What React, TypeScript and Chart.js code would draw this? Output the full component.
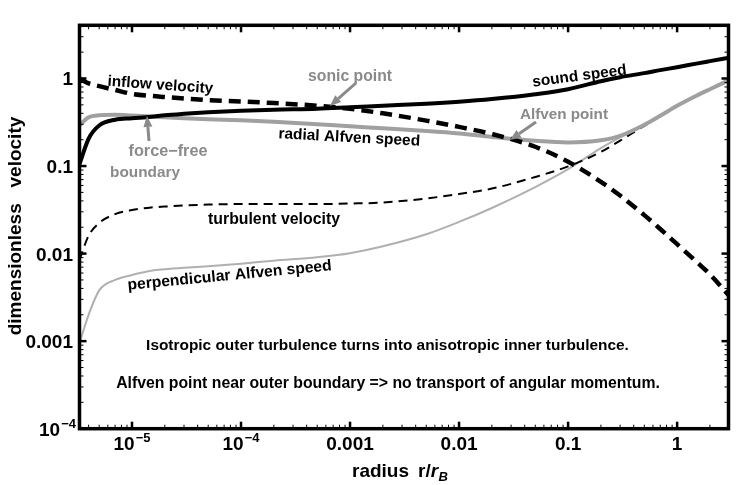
import React, { useEffect, useRef } from 'react';
import { Chart, registerables } from 'chart.js';

Chart.register(...registerables);

// ---- data ----
const radius = [3.3e-6, 4e-6, 5e-6, 7e-6, 1e-5, 1.5e-5, 2e-5, 3e-5, 5e-5, 1e-4, 2e-4, 5e-4, 1e-3, 2e-3, 5e-3, 0.01, 0.02, 0.05, 0.1, 0.2, 0.3, 0.5, 0.7, 1, 1.5, 2, 3];
const inflowVelocity = [1.0, 0.88, 0.817, 0.74, 0.667, 0.632, 0.615, 0.592, 0.567, 0.547, 0.524, 0.488, 0.45, 0.40, 0.33, 0.28, 0.232, 0.166, 0.112, 0.066, 0.046, 0.0275, 0.0191, 0.0128, 0.0081, 0.0058, 0.0033];
const soundSpeed = [0.105, 0.205, 0.29, 0.338, 0.351, 0.365, 0.38, 0.395, 0.411, 0.428, 0.44, 0.451, 0.469, 0.488, 0.514, 0.542, 0.582, 0.661, 0.754, 0.931, 1.035, 1.151, 1.245, 1.346, 1.478, 1.578, 1.73];
const radialAlfvenSpeed = [0.29, 0.36, 0.38, 0.385, 0.377, 0.367, 0.361, 0.351, 0.342, 0.333, 0.32, 0.30, 0.284, 0.27, 0.252, 0.236, 0.215, 0.194, 0.186, 0.197, 0.221, 0.296, 0.375, 0.488, 0.635, 0.754, 0.957];
const turbulentVelocity = [0.0085, 0.016, 0.0224, 0.0282, 0.0314, 0.0336, 0.0344, 0.0354, 0.0363, 0.0368, 0.0368, 0.0368, 0.0373, 0.0383, 0.0426, 0.0479, 0.0553, 0.075, 0.099, 0.145, 0.195, 0.288, 0.372, 0.485, 0.632, 0.752, 0.955];
const perpAlfvenSpeed = [0.00095, 0.002, 0.0038, 0.005, 0.0057, 0.00637, 0.00662, 0.00689, 0.00718, 0.00766, 0.0083, 0.0091, 0.0101, 0.0121, 0.0166, 0.023, 0.0332, 0.0575, 0.092, 0.16, 0.212, 0.294, 0.374, 0.487, 0.634, 0.753, 0.956];

const xTickValues = [1e-5, 1e-4, 1e-3, 0.01, 0.1, 1];
const xTickLabels = [['10', '\u22125'], ['10', '\u22124'], ['0.001', ''], ['0.01', ''], ['0.1', ''], ['1', '']];
const yTickValues = [1e-4, 1e-3, 0.01, 0.1, 1];
const yTickLabels = [['10', '\u22124'], ['0.001', ''], ['0.01', ''], ['0.1', ''], ['1', '']];

const X_MIN = 3.3e-6;
const X_MAX = 2.96;
const Y_MIN = 1e-4;
const Y_MAX = 4.05;

const FONT = '"Liberation Sans", Arial, Helvetica, sans-serif';
const GRAY_TEXT = '#8a8a8a';

function fitText(ctx: CanvasRenderingContext2D, text: string, cx: number, cy: number, width: number, angle: number, color: string) {
  const base = 15.5;
  ctx.font = `bold ${base}px ${FONT}`;
  const w = ctx.measureText(text).width;
  const size = Math.max(12, Math.min(19, (base * width) / w));
  ctx.save();
  ctx.font = `bold ${size}px ${FONT}`;
  ctx.translate(cx, cy);
  ctx.rotate((angle * Math.PI) / 180);
  ctx.textAlign = 'center';
  ctx.textBaseline = 'alphabetic';
  ctx.fillStyle = color;
  ctx.fillText(text, 0, 0);
  ctx.restore();
}

function arrow(ctx: CanvasRenderingContext2D, x1: number, y1: number, x2: number, y2: number, color: string) {
  const ang = Math.atan2(y2 - y1, x2 - x1);
  const head = 11;
  const half = 4.5;
  const bx = x2 - head * Math.cos(ang);
  const by = y2 - head * Math.sin(ang);
  ctx.save();
  ctx.strokeStyle = color;
  ctx.fillStyle = color;
  ctx.lineWidth = 3;
  ctx.beginPath();
  ctx.moveTo(x1, y1);
  ctx.lineTo(bx, by);
  ctx.stroke();
  ctx.beginPath();
  ctx.moveTo(x2, y2);
  ctx.lineTo(bx + half * Math.sin(ang), by - half * Math.cos(ang));
  ctx.lineTo(bx - half * Math.sin(ang), by + half * Math.cos(ang));
  ctx.closePath();
  ctx.fill();
  ctx.restore();
}

function drawPowerLabel(ctx: CanvasRenderingContext2D, parts: string[], x: number, baseline: number, align: 'center' | 'right') {
  ctx.font = `bold 19px ${FONT}`;
  const w1 = ctx.measureText(parts[0]).width;
  ctx.font = `bold 13px ${FONT}`;
  const w2 = parts[1] ? ctx.measureText(parts[1]).width + 1 : 0;
  const total = w1 + w2;
  const start = align === 'center' ? x - total / 2 : x - total;
  ctx.textAlign = 'left';
  ctx.textBaseline = 'alphabetic';
  ctx.fillStyle = '#000';
  ctx.font = `bold 19px ${FONT}`;
  ctx.fillText(parts[0], start, baseline);
  if (parts[1]) {
    ctx.font = `bold 13px ${FONT}`;
    ctx.fillText(parts[1], start + w1 + 1, baseline - 8);
  }
}

const decorPlugin = {
  id: 'decor',
  afterDraw(chart: any) {
    const { ctx, chartArea: a, scales } = chart;
    const xs = scales.x;
    const ys = scales.y;
    ctx.save();

    const line = (x1: number, y1: number, x2: number, y2: number, w: number) => {
      ctx.lineWidth = w;
      ctx.beginPath();
      ctx.moveTo(x1, y1);
      ctx.lineTo(x2, y2);
      ctx.stroke();
    };
    ctx.strokeStyle = '#000';
    for (let d = -6; d <= 0; d++) {
      for (let m = 1; m <= 9; m++) {
        const v = m * Math.pow(10, d);
        if (v >= X_MIN && v <= X_MAX) {
          const px = xs.getPixelForValue(v);
          const len = m === 1 ? 7 : 4;
          const w = m === 1 ? 2.5 : 1;
          line(px, a.bottom, px, a.bottom - len, w);
          line(px, a.top, px, a.top + len, w);
        }
      }
    }
    for (let d = -4; d <= 0; d++) {
      for (let m = 1; m <= 9; m++) {
        const v = m * Math.pow(10, d);
        if (v >= Y_MIN && v <= Y_MAX) {
          const py = ys.getPixelForValue(v);
          const len = m === 1 ? 7 : 4;
          const w = m === 1 ? 2.5 : 1;
          line(a.left, py, a.left + len, py, w);
          line(a.right, py, a.right - len, py, w);
        }
      }
    }

    ctx.lineWidth = 3.5;
    ctx.strokeRect(a.left, a.top, a.right - a.left, a.bottom - a.top);

    xTickValues.forEach((v, i) => {
      drawPowerLabel(ctx, xTickLabels[i], xs.getPixelForValue(v), 450, 'center');
    });
    yTickValues.forEach((v, i) => {
      const py = ys.getPixelForValue(v);
      drawPowerLabel(ctx, yTickLabels[i], i === 0 ? 76 : 73, py + 7, 'right');
    });

    ctx.fillStyle = '#000';
    ctx.save();
    ctx.font = `bold 19px ${FONT}`;
    ctx.translate(21, 226);
    ctx.rotate(-Math.PI / 2);
    ctx.textAlign = 'center';
    ctx.textBaseline = 'alphabetic';
    ctx.fillText('dimensionless   velocity', 0, 0);
    ctx.restore();

    ctx.textAlign = 'left';
    ctx.textBaseline = 'alphabetic';
    ctx.font = `bold 19px ${FONT}`;
    ctx.fillText('radius', 352, 477);
    ctx.fillText('r/', 418, 477);
    const wr = ctx.measureText('r/').width;
    ctx.font = `italic bold 19px ${FONT}`;
    ctx.fillText('r', 418 + wr, 477);
    const wr2 = ctx.measureText('r').width;
    ctx.font = `italic bold 13px ${FONT}`;
    ctx.fillText('B', 418 + wr + wr2 + 0.5, 481);

    fitText(ctx, 'inflow velocity', 160, 89.5, 106, 4, '#000');
    fitText(ctx, 'sound speed', 580, 80.5, 95, -7.5, '#000');
    fitText(ctx, 'radial Alfven speed', 349, 142, 142, 3, '#000');
    fitText(ctx, 'turbulent velocity', 274, 224, 132, 0, '#000');
    fitText(ctx, 'perpendicular Alfven speed', 230, 280, 205, -5.5, '#000');
    fitText(ctx, 'sonic point', 350, 80.5, 84, 0, GRAY_TEXT);
    fitText(ctx, 'Alfven point', 564, 119, 88, 0, GRAY_TEXT);
    fitText(ctx, 'force\u2212free', 168, 156, 79, 0, GRAY_TEXT);
    fitText(ctx, 'boundary', 145, 176.5, 70, 0, GRAY_TEXT);
    fitText(ctx, 'Isotropic outer turbulence turns into anisotropic inner turbulence.', 387.5, 350, 483, 0, '#000');
    fitText(ctx, 'Alfven point near outer boundary => no transport of angular momentum.', 388, 388, 544, 0, '#000');

    arrow(ctx, 356, 83, 330, 106, '#8a8a8a');
    arrow(ctx, 536, 122, 510, 140, '#8a8a8a');
    arrow(ctx, 149, 141, 147, 116, '#8a8a8a');

    ctx.restore();
  },
};

function toPoints(values: number[]) {
  return radius.map((r, i) => ({ x: r, y: values[i] }));
}

export default function App() {
  const canvasRef = useRef<HTMLCanvasElement | null>(null);

  useEffect(() => {
    const canvas = canvasRef.current;
    if (!canvas) return;
    const common = { pointRadius: 0, cubicInterpolationMode: 'monotone' as const, fill: false };
    const chart = new Chart(canvas, {
      type: 'line',
      data: {
        datasets: [
          { ...common, label: 'inflow velocity', data: toPoints(inflowVelocity), borderColor: '#000', borderWidth: 4.5, borderDash: [12, 7], order: 0 },
          { ...common, label: 'sound speed', data: toPoints(soundSpeed), borderColor: '#000', borderWidth: 4, order: 1 },
          { ...common, label: 'radial Alfven speed', data: toPoints(radialAlfvenSpeed), borderColor: '#a0a0a0', borderWidth: 4, order: 2 },
          { ...common, label: 'turbulent velocity', data: toPoints(turbulentVelocity), borderColor: '#000', borderWidth: 2, borderDash: [9, 6], order: 3 },
          { ...common, label: 'perpendicular Alfven speed', data: toPoints(perpAlfvenSpeed), borderColor: '#b0b0b0', borderWidth: 2, order: 4 },
        ],
      },
      options: {
        animation: false,
        responsive: false,
        devicePixelRatio: 1,
        events: [],
        layout: { padding: { left: 79.5, right: 8.5, top: 25.3, bottom: 56.3 } },
        plugins: { legend: { display: false }, tooltip: { enabled: false }, title: { display: false } },
        scales: {
          x: { type: 'logarithmic', min: X_MIN, max: X_MAX, display: false },
          y: { type: 'logarithmic', min: Y_MIN, max: Y_MAX, display: false },
        },
      },
      plugins: [decorPlugin],
    });
    return () => chart.destroy();
  }, []);

  return (
    <div style={{ position: 'fixed', left: 0, top: 0, width: 737, height: 485, background: '#fff' }}>
      <canvas ref={canvasRef} width={737} height={485} style={{ display: 'block' }} />
    </div>
  );
}
